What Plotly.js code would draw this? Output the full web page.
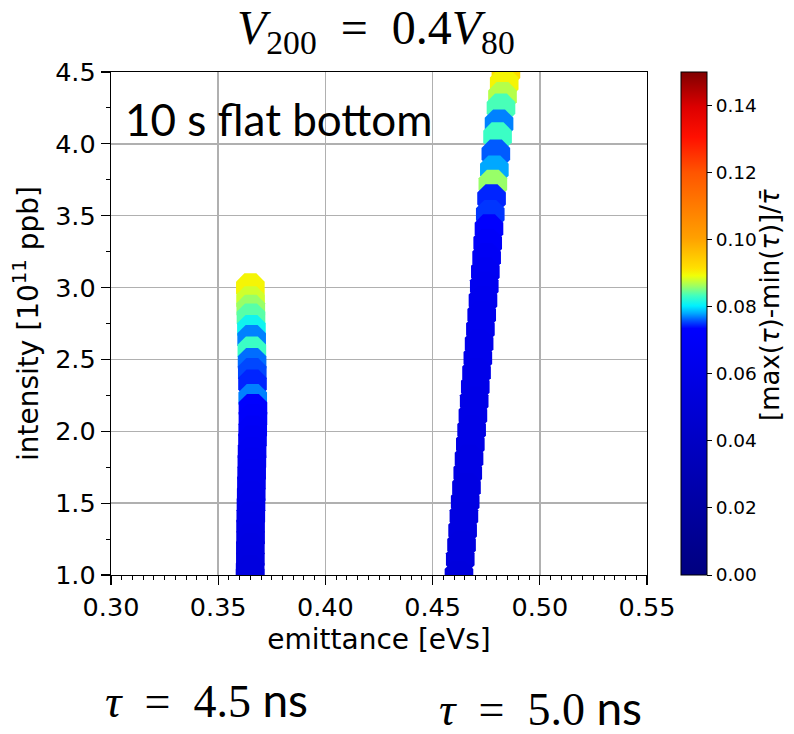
<!DOCTYPE html>
<html>
<head>
<meta charset="utf-8">
<script src="https://cdn.plot.ly/plotly-3.0.1.min.js"></script>
<style>html,body{margin:0;padding:0;background:#fff;}#chart{width:794px;height:734px;}</style>
</head>
<body>
<div id="chart"></div>
<script>
// tau = 4.5 ns column (listed top to bottom)
const leftIntensity = [3.00, 2.91, 2.85, 2.79, 2.71, 2.64, 2.56, 2.48, 2.41, 2.33, 2.23, 2.16, 2.09, 2.01, 1.94, 1.86, 1.79, 1.71, 1.64, 1.56, 1.49, 1.41, 1.34, 1.26, 1.19, 1.11, 1.04, 1.00];
const leftEmittance = [0.3650, 0.3651, 0.3652, 0.3653, 0.3655, 0.3656, 0.3657, 0.3658, 0.3659, 0.3660, 0.3661, 0.3662, 0.3662, 0.3661, 0.3660, 0.3658, 0.3657, 0.3656, 0.3655, 0.3654, 0.3653, 0.3652, 0.3651, 0.3651, 0.3650, 0.3650, 0.3649, 0.3649];
const leftSpread = [0.090, 0.088, 0.086, 0.084, 0.081, 0.077, 0.083, 0.0765, 0.0755, 0.0745, 0.077, 0.073, 0.071, 0.069, 0.067, 0.066, 0.065, 0.064, 0.063, 0.062, 0.061, 0.060, 0.059, 0.058, 0.057, 0.056, 0.055, 0.055];

// tau = 5.0 ns column (listed top to bottom)
const rightIntensity = [4.50, 4.42, 4.33, 4.25, 4.14, 4.05, 3.93, 3.82, 3.72, 3.62, 3.51, 3.41, 3.31, 3.21, 3.11, 3.01, 2.91, 2.81, 2.71, 2.61, 2.51, 2.41, 2.31, 2.21, 2.11, 2.01, 1.91, 1.81, 1.71, 1.61, 1.51, 1.41, 1.31, 1.21, 1.11, 1.00];
const rightEmittance = [0.4842, 0.4834, 0.4826, 0.4819, 0.4810, 0.4803, 0.4795, 0.4788, 0.4781, 0.4775, 0.4769, 0.4763, 0.4757, 0.4752, 0.4746, 0.4741, 0.4735, 0.4729, 0.4723, 0.4717, 0.4711, 0.4705, 0.4699, 0.4694, 0.4688, 0.4682, 0.4676, 0.4670, 0.4664, 0.4658, 0.4652, 0.4646, 0.4640, 0.4635, 0.4629, 0.4623];
const rightSpread = [0.092, 0.090, 0.087, 0.0835, 0.077, 0.083, 0.076, 0.078, 0.086, 0.0745, 0.075, 0.073, 0.070, 0.068, 0.066, 0.065, 0.064, 0.063, 0.063, 0.062, 0.062, 0.061, 0.061, 0.060, 0.060, 0.059, 0.059, 0.058, 0.058, 0.057, 0.057, 0.056, 0.056, 0.055, 0.055, 0.054];

const xTicks = [0.30, 0.35, 0.40, 0.45, 0.50, 0.55];
const yTicks = [1.0, 1.5, 2.0, 2.5, 3.0, 3.5, 4.0, 4.5];
const cbTicks = [0.00, 0.02, 0.04, 0.06, 0.08, 0.10, 0.12, 0.14];

const colorscale = [
  [0, '#00007f'], [0.49, '#0000ff'], [0.505, '#0050ff'], [0.52, '#00a8ff'],
  [0.535, '#00f0ff'], [0.555, '#40ffc0'], [0.575, '#a0ff60'], [0.595, '#f0ff08'],
  [0.61, '#ffe000'], [0.67, '#ffa000'], [0.8, '#ff5500'], [0.87, '#ff1000'],
  [0.93, '#dd0000'], [1, '#800000']
];

const W = 794, H = 734;
const mL = 111, mR = 147, mT = 72, mB = 159;
const pw = W - mL - mR, ph = H - mT - mB;
const px = (v) => (v - mL) / pw;
const py = (v) => (H - mB - v) / ph;

function markerStyle(vals, showbar) {
  return {
    symbol: 'octagon', size: 31, color: vals, cmin: 0, cmax: 0.15,
    colorscale: colorscale, line: {width: 0}, showscale: showbar,
    colorbar: showbar ? {
      x: px(681), xanchor: 'left', xpad: 0, y: 0.5, yanchor: 'middle', ypad: 0,
      len: 1.0, lenmode: 'fraction', thickness: 26, thicknessmode: 'pixels',
      outlinewidth: 1, outlinecolor: '#000',
      tickmode: 'array', tickvals: cbTicks, ticktext: cbTicks.map(v => v.toFixed(2)),
      ticks: 'outside', ticklen: 5, tickwidth: 1, tickcolor: '#000',
      tickfont: {family: 'DejaVu Sans', size: 18.5, color: '#000'}
    } : undefined
  };
}

const traces = [
  {type: 'scatter', mode: 'markers', x: leftEmittance, y: leftIntensity,
   marker: markerStyle(leftSpread, true), hoverinfo: 'x+y'},
  {type: 'scatter', mode: 'markers', x: rightEmittance, y: rightIntensity,
   marker: markerStyle(rightSpread, false), hoverinfo: 'x+y'}
];

const axisCommon = {
  showline: true, linecolor: '#000', linewidth: 1.2, mirror: true,
  showgrid: true, gridcolor: '#b0b0b0', gridwidth: 1.5, zeroline: false,
  ticks: 'outside', ticklen: 9, tickwidth: 1.2, tickcolor: '#000',
  tickfont: {family: 'DejaVu Sans', size: 25.5, color: '#000'}
};

const layout = {
  width: W, height: H, margin: {l: mL, r: mR, t: mT, b: mB, pad: 0},
  paper_bgcolor: '#fff', plot_bgcolor: '#fff', showlegend: false,
  font: {family: 'DejaVu Sans', color: '#000'},
  xaxis: Object.assign({}, axisCommon, {
    range: [0.30, 0.55], tickmode: 'array', tickvals: xTicks, ticktext: xTicks.map(v => v.toFixed(2)),
    minor: {dtick: 0.005, tick0: 0.30, ticks: 'outside', ticklen: 4, tickcolor: '#000', tickwidth: 1, showgrid: false},
    title: {text: 'emittance [eVs]', font: {family: 'DejaVu Sans', size: 28, color: '#000'}, standoff: 8}
  }),
  yaxis: Object.assign({}, axisCommon, {
    range: [1.0, 4.5], tickmode: 'array', tickvals: yTicks, ticktext: yTicks.map(v => v.toFixed(1)),
    minor: {dtick: 0.25, tick0: 1.0, ticks: 'outside', ticklen: 4, tickcolor: '#000', tickwidth: 1, showgrid: false},
    title: {text: 'intensity [10<sup>11</sup> ppb]', font: {family: 'DejaVu Sans', size: 28, color: '#000'}, standoff: 8}
  }),
  annotations: [
    {xref: 'paper', yref: 'paper', x: px(376), y: py(31), xanchor: 'center', yanchor: 'middle', showarrow: false,
     text: '<i>V</i><sub>200</sub>\u2002=\u20020.4<i>V</i><sub>80</sub>',
     font: {family: 'Liberation Serif', size: 48, color: '#000'}},
    {xref: 'paper', yref: 'paper', x: px(123), y: py(119), xanchor: 'left', yanchor: 'middle', showarrow: false,
     text: '10 s flat bottom', font: {family: 'Lato', size: 44, color: '#000'}},
    {xref: 'paper', yref: 'paper', x: px(206), y: py(699), xanchor: 'center', yanchor: 'middle', showarrow: false,
     text: '<i>τ</i>\u2002=\u20024.5 <span style="font-family:Lato">ns</span>', font: {family: 'Liberation Serif', size: 46, color: '#000'}},
    {xref: 'paper', yref: 'paper', x: px(540), y: py(707), xanchor: 'center', yanchor: 'middle', showarrow: false,
     text: '<i>τ</i>\u2002=\u20025.0 <span style="font-family:Lato">ns</span>', font: {family: 'Liberation Serif', size: 46, color: '#000'}},
    {xref: 'paper', yref: 'paper', x: px(770), y: py(305), xanchor: 'center', yanchor: 'middle', showarrow: false,
     textangle: -90, text: '[max(<i>τ</i>)-min(<i>τ</i>)]/<i>τ̄</i>',
     font: {family: 'DejaVu Sans', size: 26, color: '#000'}}
  ]
};

Plotly.newPlot('chart', traces, layout, {displayModeBar: false, staticPlot: true});
</script>
</body>
</html>
